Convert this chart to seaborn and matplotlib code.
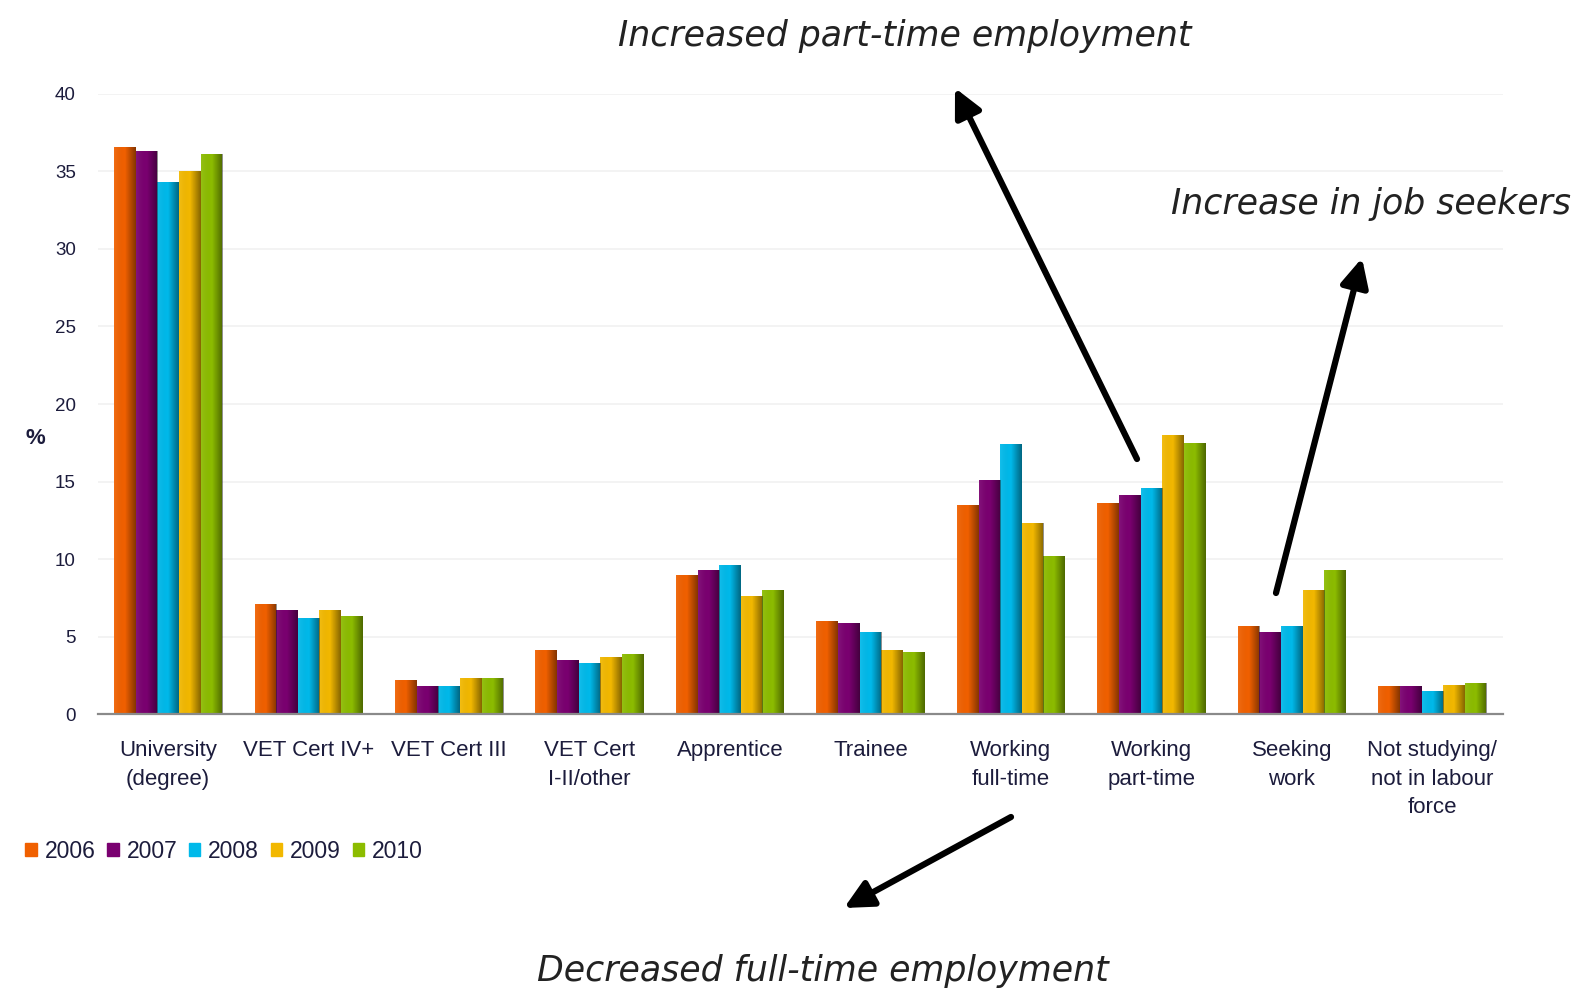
import numpy as np
import pandas as pd
import matplotlib
matplotlib.use("Agg")
import matplotlib.pyplot as plt
from matplotlib.colors import LinearSegmentedColormap
from matplotlib.patches import FancyArrowPatch
import seaborn as sns

categories = [
    "University\n(degree)", "VET Cert IV+", "VET Cert III", "VET Cert\nI-II/other",
    "Apprentice", "Trainee", "Working\nfull-time", "Working\npart-time",
    "Seeking\nwork", "Not studying/\nnot in labour\nforce",
]
years = ["2006", "2007", "2008", "2009", "2010"]
v2006 = [36.6, 7.1, 2.2, 4.1, 9.0, 6.0, 13.5, 13.6, 5.7, 1.8]
v2007 = [36.3, 6.7, 1.8, 3.5, 9.3, 5.9, 15.1, 14.1, 5.3, 1.8]
v2008 = [34.3, 6.2, 1.8, 3.3, 9.6, 5.3, 17.4, 14.6, 5.7, 1.5]
v2009 = [35.0, 6.7, 2.3, 3.7, 7.6, 4.1, 12.3, 18.0, 8.0, 1.9]
v2010 = [36.1, 6.3, 2.3, 3.9, 8.0, 4.0, 10.2, 17.5, 9.3, 2.0]
colors = ["#F06000", "#7A0070", "#00B9EA", "#F2B800", "#8CBC00"]

series = [v2006, v2007, v2008, v2009, v2010]
df = pd.DataFrame({
    "category": np.repeat([categories], len(years), axis=0).ravel(),
    "year": np.repeat(years, len(categories)),
    "value": np.concatenate(series),
})

sns.set_theme(style="white")
plt.rcParams["font.family"] = ["Liberation Sans", "DejaVu Sans"]

fig = plt.figure(figsize=(15.85, 9.89), dpi=100)
ax = fig.add_axes([0.0618, 0.278, 0.8862, 0.627])

sns.barplot(data=df, x="category", y="value", hue="year", order=categories,
            hue_order=years, palette=colors, width=0.77, saturation=1,
            edgecolor="none", linewidth=0, ax=ax, legend=False)

# Cylinder-like shading: darken each bar towards its right edge
shade = LinearSegmentedColormap.from_list(
    "shade", [(1, 1, 1, 0.08), (0, 0, 0, 0.0), (0, 0, 0, 0.45)])
grad = np.linspace(0, 1, 64).reshape(1, -1)
for p in list(ax.patches):
    x0, y0 = p.get_x(), p.get_y()
    w, h = p.get_width(), p.get_height()
    im = ax.imshow(grad, cmap=shade, aspect="auto", interpolation="bilinear",
                   extent=(x0, x0 + w, y0, y0 + h), zorder=p.get_zorder() + 0.1)
    im.set_clip_path(p)

ax.set_xlim(-0.5, len(categories) - 0.5)
ax.set_ylim(0, 40)
ax.set_yticks(range(0, 41, 5))
ax.set_xlabel("")
ax.set_ylabel("")
ax.yaxis.grid(True, color="#f1f1f1", linewidth=1.2)
ax.set_axisbelow(True)
for s in ["top", "right", "left"]:
    ax.spines[s].set_visible(False)
ax.spines["bottom"].set_color("#8a8a8a")
ax.spines["bottom"].set_linewidth(1.6)

label_color = "#1c1c3c"
ax.tick_params(axis="y", length=0, labelsize=13.5, labelcolor=label_color, pad=16)
ax.tick_params(axis="x", which="major", length=0, labelsize=16,
               labelcolor=label_color, pad=19)
ax.set_xticks(np.arange(len(categories) + 1) - 0.5, minor=True)
ax.tick_params(axis="x", which="minor", length=5, width=1.2, color="#8a8a8a",
               direction="out")
for lbl in ax.get_xticklabels():
    lbl.set_linespacing(1.45)
    lbl.set_horizontalalignment("center")

fig.text(0.016, 0.557, "%", fontsize=16, fontweight="bold", color=label_color,
         va="center", ha="left")

# Legend along the bottom-left
handles = [plt.Rectangle((0, 0), 1, 1, color=c) for c in colors]
fig.legend(handles, years, loc="center left", bbox_to_anchor=(0.003, 0.139),
           ncol=5, frameon=False, fontsize=16.5, handlelength=0.5,
           handleheight=0.5, handletextpad=0.35, columnspacing=0.5,
           labelcolor=label_color)

# Annotations
ann = dict(fontsize=25, style="italic", color="#222222",
           family=["DejaVu Sans"])
fig.text(0.571, 0.964, "Increased part-time employment", ha="center",
         va="center", **ann)
fig.text(0.865, 0.794, "Increase in job seekers", ha="center", va="center", **ann)
fig.text(0.519, 0.018, "Decreased full-time employment", ha="center",
         va="center", **ann)

arrow = dict(arrowstyle="-|>,head_length=0.85,head_width=0.42", color="black",
             lw=4.5, shrinkA=0, shrinkB=0, mutation_scale=20,
             transform=fig.transFigure)
fig.add_artist(FancyArrowPatch((1137 / 1585, 1 - 459 / 989),
                               (955 / 1585, 1 - 88 / 989), **arrow))
fig.add_artist(FancyArrowPatch((1276 / 1585, 1 - 593 / 989),
                               (1362 / 1585, 1 - 258 / 989), **arrow))
fig.add_artist(FancyArrowPatch((1011 / 1585, 1 - 817 / 989),
                               (844 / 1585, 1 - 908 / 989), **arrow))

fig.savefig("out.png", dpi=100, facecolor="white")
